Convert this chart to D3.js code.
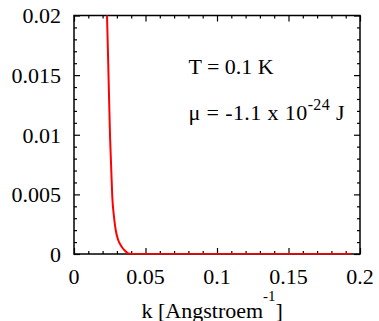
<!DOCTYPE html>
<html>
<head>
<meta charset="utf-8">
<script src="https://cdn.jsdelivr.net/npm/d3@7"></script>
<style>
  html, body { margin: 0; padding: 0; background: #fff; font-family: "Liberation Serif", serif; }
  svg { display: block; }
</style>
</head>
<body>
<svg id="chart" width="379" height="321"></svg>
<script>
// Occupation curve n(k) at T = 0.1 K
const kValues = [0.0215, 0.02308, 0.02413, 0.02517, 0.02594, 0.02678, 0.02783, 0.02916, 0.03077, 0.03336, 0.03566, 0.03797, 0.04056, 0.0450, 0.1000, 0.1500, 0.1940];
const nValues = [0.0240, 0.0200, 0.01501, 0.00998, 0.00746, 0.00478, 0.00327, 0.00201, 0.00122, 0.00061, 0.00027, 0.00004, 0.0000, 0.0000, 0.0000, 0.0000, 0.0000];

const xTicks = [0, 0.05, 0.1, 0.15, 0.2];
const xTickLabels = ["0", "0.05", "0.1", "0.15", "0.2"];
const yTicks = [0, 0.005, 0.01, 0.015, 0.02];
const yTickLabels = ["0", "0.005", "0.01", "0.015", "0.02"];
const xMinorTicks = d3.range(0, 21).map(i => i * 0.01);
const yMinorTicks = d3.range(0, 21).map(i => i * 0.001);

const SERIF = "font-family: 'Liberation Serif', 'Times New Roman', Times, serif";
const margin = { left: 74, right: 19, top: 15.5, bottom: 67 };
const W = 379, H = 321;
const svg = d3.select("#chart");

const x = d3.scaleLinear().domain([0, 0.2]).range([margin.left, W - margin.right]);
const y = d3.scaleLinear().domain([0, 0.02]).range([H - margin.bottom, margin.top]);

svg.append("defs").append("clipPath").attr("id", "plot-clip")
  .append("rect")
  .attr("x", x(0)).attr("y", y(0.02))
  .attr("width", x(0.2) - x(0)).attr("height", y(0) - y(0.02) + 0.6);

// Ticks pointing inward on all four sides
const axisStyle = g => {
  g.select(".domain").remove();
  g.selectAll("line").attr("stroke", "#000").attr("stroke-width", 1.2);
  g.selectAll("text").remove();
};
const minorOnlyX = xMinorTicks.filter(v => !xTicks.some(t => Math.abs(t - v) < 1e-9));
const minorOnlyY = yMinorTicks.filter(v => !yTicks.some(t => Math.abs(t - v) < 1e-9));

svg.append("g").attr("transform", `translate(0,${y(0)})`)
  .call(d3.axisTop(x).tickValues(xTicks).tickSize(6)).call(axisStyle);
svg.append("g").attr("transform", `translate(0,${y(0)})`)
  .call(d3.axisTop(x).tickValues(minorOnlyX).tickSize(3)).call(axisStyle);
svg.append("g").attr("transform", `translate(0,${y(0.02)})`)
  .call(d3.axisBottom(x).tickValues(xTicks).tickSize(6)).call(axisStyle);
svg.append("g").attr("transform", `translate(0,${y(0.02)})`)
  .call(d3.axisBottom(x).tickValues(minorOnlyX).tickSize(3)).call(axisStyle);
svg.append("g").attr("transform", `translate(${x(0)},0)`)
  .call(d3.axisRight(y).tickValues(yTicks).tickSize(6)).call(axisStyle);
svg.append("g").attr("transform", `translate(${x(0)},0)`)
  .call(d3.axisRight(y).tickValues(minorOnlyY).tickSize(3)).call(axisStyle);
svg.append("g").attr("transform", `translate(${x(0.2)},0)`)
  .call(d3.axisLeft(y).tickValues(yTicks).tickSize(6)).call(axisStyle);
svg.append("g").attr("transform", `translate(${x(0.2)},0)`)
  .call(d3.axisLeft(y).tickValues(minorOnlyY).tickSize(3)).call(axisStyle);

// Tick labels
svg.append("g").selectAll("text").data(xTicks).join("text")
  .attr("style", SERIF)
  .attr("x", d => x(d)).attr("y", y(0) + 29.5)
  .attr("text-anchor", "middle").attr("font-size", 22)
  .text((d, i) => xTickLabels[i]);
svg.append("g").selectAll("text").data(yTicks).join("text")
  .attr("style", SERIF)
  .attr("x", x(0) - 13).attr("y", d => y(d) + 7.8)
  .attr("text-anchor", "end").attr("font-size", 22)
  .text((d, i) => yTickLabels[i]);

// Frame
svg.append("rect")
  .attr("x", x(0)).attr("y", y(0.02))
  .attr("width", x(0.2) - x(0)).attr("height", y(0) - y(0.02))
  .attr("fill", "none").attr("stroke", "#000").attr("stroke-width", 1.5);

// Curve (drawn over the frame so the zero tail shows along the bottom edge)
const line = d3.line().x((d, i) => x(kValues[i])).y(d => y(d)).curve(d3.curveMonotoneX);
svg.append("path").datum(nValues)
  .attr("clip-path", "url(#plot-clip)")
  .attr("fill", "none").attr("stroke", "#ff0000").attr("stroke-width", 2)
  .attr("d", line);

// Annotations
svg.append("text").attr("style", SERIF).attr("x", x(0.08)).attr("y", y(0.0151))
  .attr("font-size", 22).text("T = 0.1 K");
const mu = svg.append("text").attr("style", SERIF).attr("x", x(0.08)).attr("y", y(0.01124))
  .attr("font-size", 22).attr("letter-spacing", 0.4);
mu.append("tspan").text("\u03bc = -1.1 x 10");
mu.append("tspan").attr("font-size", 16).attr("dy", -10).text("-24");
mu.append("tspan").attr("dy", 10).text(" J");

// Axis title
const title = svg.append("text").attr("style", SERIF).attr("x", 141.5).attr("y", 317.5).attr("font-size", 22);
title.append("tspan").text("k [Angstroem");
title.append("tspan").attr("font-size", 15).attr("dy", -17).text("-1");
title.append("tspan").attr("dy", 17).text("]");
</script>
</body>
</html>
